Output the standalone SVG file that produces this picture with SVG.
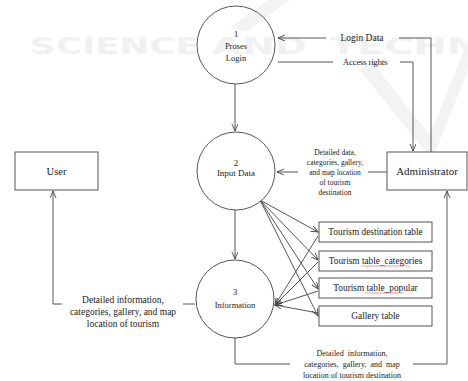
<svg xmlns="http://www.w3.org/2000/svg" width="468" height="381" viewBox="0 0 468 381">
<defs>
<marker id="arr" markerWidth="8" markerHeight="8" refX="7" refY="3" orient="auto" markerUnits="userSpaceOnUse">
<path d="M0,0 L7,3 L0,6" fill="none" stroke="#444" stroke-width="0.9"/>
</marker>
<style>
.wm{font-family:"DejaVu Sans",sans-serif;font-weight:bold;font-size:23px;fill:#f1f1f1}
.n{fill:#fff;stroke:#555;stroke-width:1}
.nc{fill:none;stroke:#555;stroke-width:1}
text{font-family:"Liberation Serif","Times New Roman","DejaVu Serif",serif}
.t{fill:#222;text-anchor:middle}
.c{fill:none;stroke:#444;stroke-width:0.9}
.ca{fill:none;stroke:#444;stroke-width:0.9;marker-end:url(#arr)}
.sq{fill:none;stroke:#e55;stroke-width:0.6}
</style>
</defs>
<rect width="468" height="381" fill="#fff"/>
<g id="watermark">
<path d="M230,28 L268,0 L290,0 L246,32 Z" fill="#f3f3f3"/>
<path d="M372,62 L430,135 L468,40 L468,70 L432,160 L360,70 Z" fill="#f3f3f3"/>
<text class="wm" x="30" y="54" textLength="170" lengthAdjust="spacingAndGlyphs" style="font-family:'DejaVu Sans',sans-serif">SCIENCE</text>
<text class="wm" x="212" y="54" textLength="95" lengthAdjust="spacingAndGlyphs" style="font-family:'DejaVu Sans',sans-serif">AND</text>
<text class="wm" x="330" y="54" textLength="150" lengthAdjust="spacingAndGlyphs" style="font-family:'DejaVu Sans',sans-serif">TECHN</text>
</g>
<g id="connectors">
<path class="c" d="M431,152 V38 H399"/>
<path class="ca" d="M326,38 H278"/>
<path class="c" d="M278,62 H333"/>
<path class="ca" d="M400,62 H413 V151"/>
<path class="ca" d="M235,84 V131"/>
<path class="c" d="M387,172 H368"/>
<path class="ca" d="M298,172 H277"/>
<path class="ca" d="M235,210 V259"/>
<path class="ca" d="M260,200 L318,232"/>
<path class="ca" d="M260,200 L318,260"/>
<path class="ca" d="M260,200 L318,289"/>
<path class="ca" d="M260,200 L318,316"/>
<path class="ca" d="M318,236 L275,305"/>
<path class="ca" d="M318,262 L275,305"/>
<path class="ca" d="M318,291 L275,305"/>
<path class="ca" d="M318,313 L275,305"/>
<path class="c" d="M195,304 H183"/>
<path class="ca" d="M62,304 H53 V191"/>
<path class="c" d="M235,338 V364 H290"/>
<path class="ca" d="M413,364 H447 V191"/>
<text class="t" font-size="9.5" x="362" y="41">Login Data</text>
<text class="t" font-size="9" x="365" y="65" letter-spacing="-0.3">Access rights</text>
<g class="t" font-size="7.5">
<text x="335" y="154.5">Detailed data,</text>
<text x="335" y="164.5">categories, gallery,</text>
<text x="335" y="174.5">and map location</text>
<text x="335" y="184.5">of tourism</text>
<text x="335" y="194.5">destination</text>
</g>
<g class="t" font-size="9.5">
<text x="123" y="303">Detailed information,</text>
<text x="123" y="315">categories, gallery, and map</text>
<text x="123" y="327">location of tourism</text>
</g>
<g class="t" font-size="8">
<text x="352" y="356" word-spacing="2">Detailed information,</text>
<text x="352" y="367" word-spacing="2">categories, gallery, and map</text>
<text x="352" y="378">location of tourism destination</text>
</g>
</g>
<g id="p1">
<circle class="nc" cx="236" cy="45" r="39"/>
<text class="t" font-size="8.5" x="236" y="37">1</text>
<text class="t" font-size="8.5" x="236" y="49">Proses</text>
<text class="t" font-size="8.5" x="236" y="61">Login</text>
</g>
<g id="p2">
<circle class="n" cx="236" cy="171" r="39"/>
<text class="t" font-size="9" x="236" y="166">2</text>
<text class="t" font-size="9" x="236" y="176">Input Data</text>
</g>
<g id="p3">
<circle class="n" cx="235" cy="299" r="39"/>
<text class="t" font-size="8.5" x="235" y="295">3</text>
<text class="t" font-size="8.5" x="235" y="308">Information</text>
</g>
<g id="user">
<rect class="n" x="15" y="152" width="83" height="38"/>
<text class="t" font-size="10.5" x="56.5" y="175">User</text>
</g>
<g id="admin">
<rect class="n" x="387" y="152" width="80" height="38"/>
<text class="t" font-size="11" x="427" y="175">Administrator</text>
</g>
<g id="t1">
<rect class="n" x="319" y="222" width="113" height="20"/>
<text class="t" font-size="9.3" x="375.5" y="235">Tourism destination table</text>
</g>
<g id="t2">
<rect class="n" x="319" y="251" width="113" height="20"/>
<text class="t" font-size="9.3" x="375.5" y="264">Tourism table_categories</text>
<path class="sq" d="M361,266.5 l1.5,-1 l1.5,1 l1.5,-1 l1.5,1 l1.5,-1 l1.5,1 l1.5,-1 l1.5,1 l1.5,-1 l1.5,1 l1.5,-1 l1.5,1 l1.5,-1 l1.5,1 l1.5,-1 l1.5,1 l1.5,-1 l1.5,1 l1.5,-1 l1.5,1 l1.5,-1 l1.5,1 l1.5,-1 l1.5,1 l1.5,-1 l1.5,1 l1.5,-1 l1.5,1 l1.5,-1 l1.5,1 l1.5,-1 l1.5,1"/>
</g>
<g id="t3">
<rect class="n" x="319" y="278" width="113" height="20"/>
<text class="t" font-size="9.3" x="375.5" y="291">Tourism table_popular</text>
<path class="sq" d="M365,293.5 l1.5,-1 l1.5,1 l1.5,-1 l1.5,1 l1.5,-1 l1.5,1 l1.5,-1 l1.5,1 l1.5,-1 l1.5,1 l1.5,-1 l1.5,1 l1.5,-1 l1.5,1 l1.5,-1 l1.5,1 l1.5,-1 l1.5,1 l1.5,-1 l1.5,1 l1.5,-1 l1.5,1 l1.5,-1 l1.5,1 l1.5,-1 l1.5,1"/>
</g>
<g id="t4">
<rect class="n" x="319" y="306" width="113" height="20"/>
<text class="t" font-size="9.3" x="375.5" y="319">Gallery table</text>
</g>
</svg>
